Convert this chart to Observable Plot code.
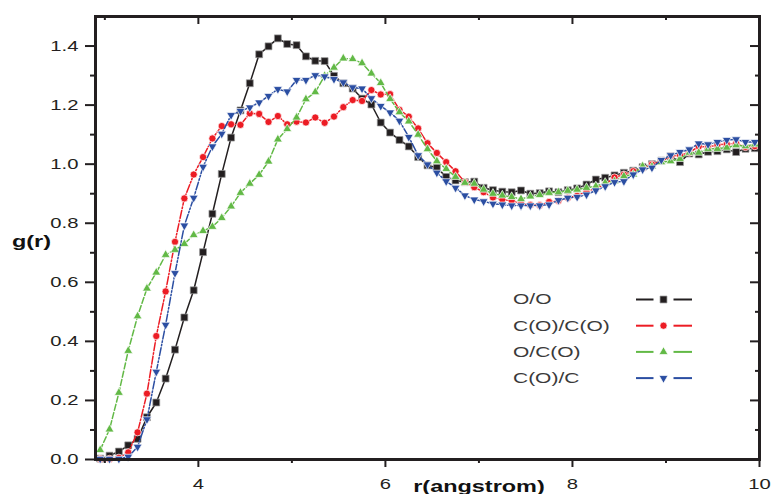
<!DOCTYPE html>
<html>
<head>
<meta charset="utf-8">
<script src="https://cdn.jsdelivr.net/npm/d3@7"></script>
<script src="https://cdn.jsdelivr.net/npm/@observablehq/plot@0.6"></script>
<style>
  html, body { margin: 0; padding: 0; background: #fff; }
  #chart { width: 771px; height: 494px; overflow: hidden; }
</style>
</head>
<body>
<div id="chart"></div>
<script>
// ---- data ----
const r = [2.95,3.05,3.15,3.25,3.35,3.45,3.55,3.65,3.75,3.85,3.95,4.05,4.15,4.25,4.35,4.45,4.55,4.65,4.75,4.85,
  4.95,5.05,5.15,5.25,5.35,5.45,5.55,5.65,5.75,5.85,5.95,6.05,6.15,6.25,6.35,6.45,6.55,6.65,6.75,6.85,
  6.95,7.05,7.15,7.25,7.35,7.45,7.55,7.65,7.75,7.85,7.95,8.05,8.15,8.25,8.35,8.45,8.55,8.65,8.75,8.85,
  8.95,9.05,9.15,9.25,9.35,9.45,9.55,9.65,9.75,9.85,9.95];

const gOO = [0.003,0.013,0.027,0.048,0.070,0.143,0.193,0.274,0.372,0.481,0.573,0.702,0.832,0.967,1.090,1.182,1.274,1.372,1.399,1.426,
  1.407,1.403,1.365,1.350,1.349,1.299,1.274,1.256,1.222,1.202,1.141,1.107,1.082,1.060,1.024,0.996,0.988,0.957,0.945,0.939,
  0.941,0.920,0.912,0.907,0.905,0.911,0.900,0.902,0.908,0.905,0.912,0.918,0.931,0.948,0.954,0.962,0.971,0.978,0.990,1.000,
  1.012,1.027,1.007,1.036,1.033,1.042,1.044,1.050,1.041,1.052,1.054];

const gCOCO = [0.002,0.002,0.006,0.024,0.092,0.223,0.418,0.569,0.737,0.884,0.965,1.024,1.087,1.129,1.135,1.133,1.172,1.170,1.143,1.163,
  1.135,1.144,1.141,1.158,1.140,1.161,1.193,1.217,1.214,1.251,1.236,1.237,1.184,1.161,1.121,1.071,1.038,1.007,0.976,0.939,
  0.922,0.905,0.887,0.880,0.876,0.868,0.862,0.861,0.872,0.876,0.886,0.893,0.908,0.918,0.932,0.955,0.965,0.976,0.986,0.999,
  1.010,1.027,1.030,1.039,1.060,1.058,1.065,1.068,1.070,1.058,1.061];

const gOCO = [0.032,0.102,0.226,0.368,0.485,0.579,0.633,0.693,0.710,0.730,0.760,0.774,0.788,0.818,0.857,0.903,0.934,0.964,1.009,1.084,
  1.119,1.158,1.220,1.244,1.299,1.327,1.358,1.356,1.342,1.307,1.275,1.221,1.176,1.145,1.100,1.051,1.010,0.984,0.957,0.937,
  0.934,0.914,0.900,0.894,0.889,0.882,0.891,0.896,0.903,0.905,0.910,0.914,0.920,0.925,0.937,0.942,0.959,0.965,0.993,0.992,
  1.007,1.010,1.018,1.039,1.039,1.052,1.052,1.056,1.064,1.061,1.067];

const gCOC = [0.002,0.002,0.002,0.009,0.043,0.136,0.297,0.456,0.631,0.792,0.886,0.991,1.060,1.103,1.166,1.180,1.192,1.209,1.231,1.254,
  1.246,1.285,1.285,1.301,1.297,1.288,1.277,1.260,1.256,1.223,1.197,1.175,1.147,1.092,1.030,0.999,0.971,0.942,0.920,0.894,
  0.880,0.874,0.866,0.863,0.860,0.860,0.860,0.860,0.863,0.878,0.886,0.889,0.897,0.911,0.925,0.939,0.942,0.965,0.982,0.988,
  1.014,1.030,1.041,1.050,1.070,1.067,1.075,1.082,1.084,1.075,1.075];

const seriesNames = ["O/O", "C(O)/C(O)", "O/C(O)", "C(O)/C"];
const seriesValues = [gOO, gCOCO, gOCO, gCOC];

const yMajor = [0.0, 0.2, 0.4, 0.6, 0.8, 1.0, 1.2, 1.4];
const yMinor = [0.1, 0.3, 0.5, 0.7, 0.9, 1.1, 1.3];
const xMajor = [4, 6, 8, 10];
const xMinor = [3, 5, 7, 9];
const xTitle = "r(angstrom)";
const yTitle = "g(r)";

// ---- styles ----
const triangleDown = {
  draw(context, size) {
    const y = -Math.sqrt(size / (Math.sqrt(3) * 3));
    context.moveTo(0, -2 * y);
    context.lineTo(-Math.sqrt(3) * y, y);
    context.lineTo(Math.sqrt(3) * y, y);
    context.closePath();
  }
};
const styles = [
  {color: "#231f20", edge: "#9a9a9a", dash: null, symbol: "square", d3sym: d3.symbolSquare, r: 3.9},
  {color: "#ec1c24", edge: "#ffffff", dash: "8,2,1.5,2", symbol: "circle", d3sym: d3.symbolCircle, r: 3.6},
  {color: "#62b946", edge: "#ffffff", dash: "6,2.5", symbol: "triangle", d3sym: d3.symbolTriangle, r: 3.3},
  {color: "#2b4ea2", edge: "#ffffff", dash: "8,2,1.5,2,1.5,2", symbol: triangleDown, d3sym: triangleDown, r: 3.3}
];

const W = 771, H = 494, mL = 95, mR = 12, mT = 16, mB = 35;
const pw = W - mL - mR, ph = H - mT - mB;
const ink = "#231f20";
const font = "'Liberation Sans', Arial, sans-serif";

const marks = [];
seriesValues.forEach((vals, k) => {
  const s = styles[k];
  const d = r.map((x, i) => ({r: x, g: vals[i]}));
  marks.push(Plot.line(d, {x: "r", y: "g", stroke: s.color, strokeWidth: 1.5, strokeDasharray: s.dash}));
  marks.push(Plot.dot(d, {x: "r", y: "g", symbol: s.symbol, r: s.r, fill: s.color, stroke: s.edge, strokeWidth: 0.7}));
});

const chart = Plot.plot({
  width: W, height: H,
  marginLeft: mL, marginRight: mR, marginTop: mT, marginBottom: mB,
  style: {fontFamily: font, fontSize: "15px", color: ink, background: "#fff"},
  x: {domain: [2.9, 10]},
  y: {domain: [0, 1.5]},
  marks: [
    ...marks,
    Plot.axisY({anchor: "left", ticks: yMajor, tickSize: 10, tickPadding: 7, strokeWidth: 2, tickFormat: d3.format(".1f"), label: null}),
    Plot.axisY({anchor: "left", ticks: yMinor, tickSize: 5, strokeWidth: 2, tickFormat: () => "", label: null}),
    Plot.axisX({anchor: "bottom", ticks: xMajor, tickSize: 8, tickPadding: 11, strokeWidth: 2, tickFormat: d3.format("d"), label: null}),
    Plot.axisX({anchor: "bottom", ticks: xMinor, tickSize: 4, strokeWidth: 2, tickFormat: () => "", label: null}),
    Plot.tickX(xMajor.filter(v => v < 10), {x: d => d, insetBottom: ph - 8, stroke: ink, strokeWidth: 2}),
    Plot.tickX(xMinor, {x: d => d, insetBottom: ph - 4, stroke: ink, strokeWidth: 2}),
    Plot.tickY(yMajor.filter(v => v > 0), {y: d => d, insetLeft: pw - 9, stroke: ink, strokeWidth: 2}),
    Plot.tickY(yMinor, {y: d => d, insetLeft: pw - 4, stroke: ink, strokeWidth: 2}),
    Plot.frame({stroke: ink, strokeWidth: 3})
  ]
});

// widen texts horizontally around their anchor (the reference is horizontally stretched)
function widen(t, sx) {
  let x = parseFloat(t.getAttribute("x"));
  if (!isFinite(x)) x = 0;
  const tr = t.getAttribute("transform") || "";
  t.setAttribute("transform", `${tr} translate(${x},0) scale(${sx},1) translate(${-x},0)`.trim());
}
chart.querySelectorAll("text").forEach(t => widen(t, 1.35));

const svg = d3.select(chart);
// axis titles
const ty = svg.append("text").attr("x", 12).attr("y", 247).attr("text-anchor", "start")
  .attr("font-family", font).attr("font-weight", "bold")
  .attr("font-size", 17).attr("fill", "#111").text(yTitle);
widen(ty.node(), 1.38);
const tx = svg.append("text").attr("x", 479).attr("y", 492).attr("text-anchor", "middle")
  .attr("font-family", font).attr("font-weight", "bold")
  .attr("font-size", 17).attr("fill", "#111").text(xTitle);
widen(tx.node(), 1.38);

// legend
const leg = svg.append("g");
const legX = 513, legY0 = 299.5, legStep = 26.2, sampX0 = 636, sampX1 = 692, sampMid = 663.5;
seriesNames.forEach((name, i) => {
  const s = styles[i];
  const cy = legY0 + i * legStep;
  const lt = leg.append("text").attr("x", legX).attr("y", cy + 5).attr("text-anchor", "start")
    .attr("font-family", font).attr("font-size", 14)
    .attr("fill", "#3a3a3a").text(name);
  widen(lt.node(), 1.5);
  leg.append("line").attr("x1", sampX0).attr("x2", sampMid - 10).attr("y1", cy).attr("y2", cy)
    .attr("stroke", s.color).attr("stroke-width", 2);
  leg.append("line").attr("x1", sampMid + 10).attr("x2", sampX1).attr("y1", cy).attr("y2", cy)
    .attr("stroke", s.color).attr("stroke-width", 2);
  leg.append("path").attr("transform", `translate(${sampMid},${cy})`)
    .attr("d", d3.symbol().type(s.d3sym).size(Math.PI * s.r * s.r)())
    .attr("fill", s.color).attr("stroke", s.edge).attr("stroke-width", 0.7);
});

document.getElementById("chart").appendChild(chart);
</script>
</body>
</html>
